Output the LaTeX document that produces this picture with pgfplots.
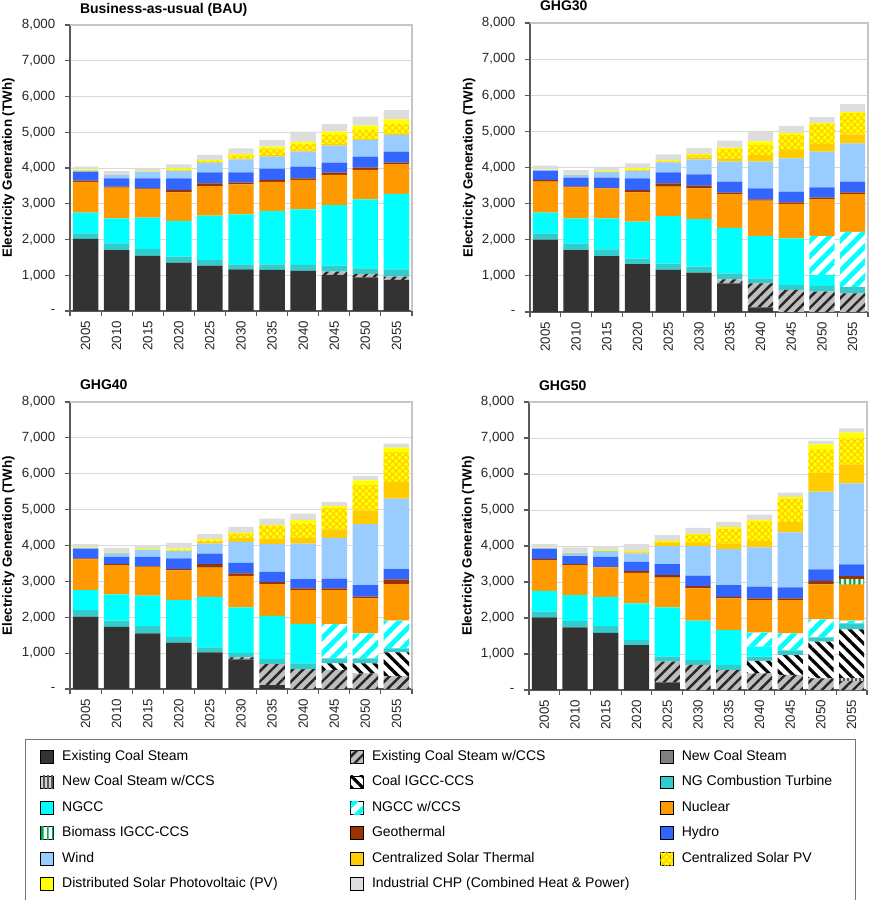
\documentclass[border=0pt]{standalone}
\usepackage{fontspec}
\setmainfont{Liberation Sans}
\usepackage{pgfplots}
\usepackage{pgfplotstable}
\pgfplotsset{compat=1.18}
\usetikzlibrary{patterns.meta}

\definecolor{cECS}{HTML}{333333}
\definecolor{cECCSbg}{HTML}{BEBEBE}
\definecolor{cNCS}{HTML}{808080}
\definecolor{cCT}{HTML}{33CCCC}
\definecolor{cNGCC}{HTML}{00FFFF}
\definecolor{cNuc}{HTML}{FF9900}
\definecolor{cBio}{HTML}{00A651}
\definecolor{cGeo}{HTML}{993300}
\definecolor{cHyd}{HTML}{3366FF}
\definecolor{cWind}{HTML}{99CCFF}
\definecolor{cCST}{HTML}{FFCC00}
\definecolor{cPV}{HTML}{FFFF00}
\definecolor{cCHP}{HTML}{DDDDDD}

\tikzset{
 sECS/.style={fill=cECS, draw=none},
 sECCS/.style={fill=cECCSbg, draw=none, postaction={pattern={Lines[angle=45,distance=5.5pt,line width=1.8pt]},pattern color=black!85}},
 sNCS/.style={fill=cNCS, draw=none},
 sNCCS/.style={fill=gray!35, draw=none, postaction={pattern={Lines[angle=90,distance=3pt,line width=1.2pt]},pattern color=gray!70!black}},
 sIGCC/.style={fill=white, draw=none, postaction={pattern={Lines[angle=-45,distance=6pt,line width=2.4pt]},pattern color=black}},
 sCT/.style={fill=cCT, draw=none},
 sNGCC/.style={fill=cNGCC, draw=none},
 sNGCCS/.style={fill=white, draw=none, postaction={pattern={Lines[angle=45,distance=8pt,line width=3.6pt]},pattern color=cNGCC}},
 sNuc/.style={fill=cNuc, draw=none},
 sBio/.style={fill=white, draw=none, postaction={pattern={Lines[angle=90,distance=4pt,line width=2pt]},pattern color=cBio}},
 sGeo/.style={fill=cGeo, draw=none},
 sHyd/.style={fill=cHyd, draw=none},
 sWind/.style={fill=cWind, draw=none},
 sCST/.style={fill=cCST, draw=none},
 sCSPV/.style={fill=cPV, draw=none, postaction={pattern={Hatch[angle=45,distance=3.5pt,line width=0.8pt]},pattern color=cCST}},
 sDPV/.style={fill=cPV, draw=none},
 sCHP/.style={fill=cCHP, draw=none},
}

% columns: x ecs eccs ncs nccs igcc ngct ngcc ngccs nuc bio geo hyd wind cst cspv dspv chp
\pgfplotstableread{
x ecs eccs ncs nccs igcc ngct ngcc ngccs nuc bio geo hyd wind cst cspv dspv chp
0 2020 0 0 0 0 150 580 0 860 0 40 250 30 0 10 20 80
1 1700 0 0 0 0 190 700 0 860 0 30 230 90 0 0 10 110
2 1540 0 0 0 0 190 880 0 800 0 20 280 190 0 0 20 70
3 1350 0 0 0 0 170 1000 0 800 0 65 325 210 10 20 40 110
4 1270 0 0 0 0 155 1240 0 830 0 75 310 270 15 30 25 145
5 1165 0 0 0 0 140 1400 0 840 0 45 290 360 30 85 30 165
6 1150 0 0 0 0 155 1490 0 820 0 50 315 340 40 190 50 185
7 1130 0 0 0 0 160 1555 0 820 0 45 325 420 40 190 50 280
8 1010 90 0 0 0 170 1695 0 840 0 65 280 475 40 260 95 210
9 940 95 0 0 0 160 1930 0 820 0 65 305 470 40 240 120 250
10 870 90 0 0 0 205 2110 0 830 0 45 305 470 40 265 130 260
}\tBAU

\pgfplotstableread{
x ecs eccs ncs nccs igcc ngct ngcc ngccs nuc bio geo hyd wind cst cspv dspv chp
0 2000 0 0 0 0 175 575 0 860 0 45 250 20 0 0 15 110
1 1710 0 0 0 0 185 695 0 860 0 25 245 75 0 0 10 125
2 1545 0 0 0 0 185 860 0 830 0 15 285 150 0 0 35 100
3 1325 0 0 0 0 155 1020 0 810 0 65 325 205 15 20 40 135
4 1175 0 0 0 0 165 1315 0 815 0 90 305 280 15 20 15 170
5 1090 0 0 0 0 165 1315 0 855 0 75 310 415 55 70 25 160
6 795 110 0 0 0 165 1260 0 935 0 40 305 555 90 260 35 195
7 130 665 0 0 0 135 1180 0 970 0 40 305 740 185 275 95 260
8 0 610 0 0 0 140 1290 0 950 0 45 295 925 230 415 50 205
9 0 565 0 0 0 155 305 1075 1025 0 40 285 990 215 545 30 165
10 0 515 0 0 0 170 0 1535 1045 0 45 300 1060 250 585 30 220
}\tGHGthirty

\pgfplotstableread{
x ecs eccs ncs nccs igcc ngct ngcc ngccs nuc bio geo hyd wind cst cspv dspv chp
0 2015 0 0 0 0 185 555 0 855 0 30 275 20 0 0 15 85
1 1735 0 0 0 0 170 730 0 815 0 30 205 110 0 0 10 130
2 1550 0 0 0 0 205 845 0 805 0 15 265 185 0 0 30 110
3 1290 0 0 0 0 165 1025 0 830 0 30 300 200 20 25 30 160
4 1020 0 0 0 0 140 1410 0 815 0 95 295 280 45 45 30 140
5 825 55 0 0 0 130 1265 0 880 0 65 295 585 120 95 40 165
6 110 580 0 0 0 140 1205 0 890 0 55 285 770 160 345 30 180
7 0 557 0 0 0 160 1095 0 945 0 45 263 990 170 390 90 185
8 0 530 0 0 185 140 0 955 945 0 50 275 1135 230 600 50 120
9 0 437 0 0 280 140 0 695 975 0 45 325 1700 385 700 135 121
10 0 360 0 0 660 115 0 770 1020 0 130 285 1970 465 830 125 110
}\tGHGforty

\pgfplotstableread{
x ecs eccs ncs nccs igcc ngct ngcc ngccs nuc bio geo hyd wind cst cspv dspv chp
0 2015 0 0 0 0 160 580 0 855 0 30 280 20 0 0 15 95
1 1740 0 0 0 0 175 720 0 835 0 25 225 90 0 0 10 140
2 1590 0 0 0 0 185 815 0 815 0 15 280 155 0 0 35 105
3 1250 0 0 0 0 140 1015 0 850 0 45 260 235 20 20 25 190
4 215 570 0 0 0 140 1370 0 830 0 65 305 500 95 25 30 155
5 0 695 0 0 0 140 1090 0 895 0 65 290 820 95 220 20 175
6 0 555 0 0 0 140 970 0 880 0 45 325 1000 155 415 45 140
7 0 463 0 0 345 118 278 390 905 0 45 325 1090 185 530 45 155
8 0 417 0 0 555 130 0 472 925 0 45 305 1527 296 647 46 121
9 0 324 0 0 1020 120 0 500 970 0 100 315 2161 527 630 157 100
10 0 250 0 80 1355 165 0 75 1010 135 95 325 2250 530 720 160 120
}\tGHGfifty

\newcommand\drawpanel[1]{%
 \addplot[sECS] table[x=x,y=ecs]{#1};
 \addplot[sECCS] table[x=x,y=eccs]{#1};
 \addplot[sNCS] table[x=x,y=ncs]{#1};
 \addplot[sNCCS] table[x=x,y=nccs]{#1};
 \addplot[sIGCC] table[x=x,y=igcc]{#1};
 \addplot[sCT] table[x=x,y=ngct]{#1};
 \addplot[sNGCC] table[x=x,y=ngcc]{#1};
 \addplot[sNGCCS] table[x=x,y=ngccs]{#1};
 \addplot[sNuc] table[x=x,y=nuc]{#1};
 \addplot[sBio] table[x=x,y=bio]{#1};
 \addplot[sGeo] table[x=x,y=geo]{#1};
 \addplot[sHyd] table[x=x,y=hyd]{#1};
 \addplot[sWind] table[x=x,y=wind]{#1};
 \addplot[sCST] table[x=x,y=cst]{#1};
 \addplot[sCSPV] table[x=x,y=cspv]{#1};
 \addplot[sDPV] table[x=x,y=dspv]{#1};
 \addplot[sCHP] table[x=x,y=chp]{#1};
}
\newcommand\LE[2]{\addlegendentry{\makebox[#1][l]{\hspace{6.25pt}#2}}}

\pgfplotsset{
 panel/.style={
  scale only axis,
  ybar stacked, bar width=0.82,
  every axis plot/.append style={legend image code/.code={\draw[##1] (0pt,-4.75pt) rectangle (9.5pt,4.75pt);}},
  xmin=-0.5, xmax=10.5, ymin=0, ymax=8000,
  enlarge x limits=false, enlarge y limits=false,
  xtick={0,...,10},
  xticklabels={2005,2010,2015,2020,2025,2030,2035,2040,2045,2050,2055},
  minor xtick={-0.5,0.5,...,10.5},
  ytick={0,1000,...,8000},
  yticklabels={{-\hspace{5pt}},{1,000},{2,000},{3,000},{4,000},{5,000},{6,000},{7,000},{8,000}},
  axis x line*=bottom, axis y line*=left,
  axis line style={black!65, line width=0.8pt},
  tick align=outside,
  major x tick style={draw=none},
  minor x tick style={black!65, line width=0.8pt},
  major y tick style={black!65, line width=0.8pt},
  major tick length=4pt, minor tick length=4pt,
  ymajorgrids, major grid style={gray!30, line width=0.6pt},
  tick label style={font=\fontsize{10}{12}\selectfont, text=black!85},
  xticklabel style={rotate=90, anchor=east},
  yticklabel style={xshift=-3.5pt},
  every axis y label/.style={at={(axis description cs:-0.18,0.5)}, rotate=90, anchor=center, font=\bfseries\fontsize{10}{12}\selectfont},
  ylabel={Electricity Generation (TWh)},
  title style={at={(axis description cs:0,1)}, anchor=base west, xshift=4pt, yshift=3pt, font=\bfseries\fontsize{10.5}{12}\selectfont},
  after end axis/.code={\draw[gray!45, line width=0.8pt] (rel axis cs:0,1) -- (rel axis cs:1,1) -- (rel axis cs:1,0);},
 }
}

\begin{document}
\begin{tikzpicture}
\path[use as bounding box] (0pt,0pt) rectangle (653.25pt,675pt);

\begin{axis}[panel, at={(52.5pt,441.75pt)}, anchor=south west, width=256.5pt, height=214.5pt,
 title={Business-as-usual (BAU)}]
\drawpanel{\tBAU}
\end{axis}

\begin{axis}[panel, at={(397.5pt,441pt)}, anchor=south west, width=253.5pt, height=216.75pt,
 title={GHG30}]
\drawpanel{\tGHGthirty}
\end{axis}

\begin{axis}[panel, at={(52.5pt,158.25pt)}, anchor=south west, width=256.5pt, height=215.25pt,
 title={GHG40}]
\drawpanel{\tGHGforty}
\end{axis}

\begin{axis}[panel, at={(396.75pt,157.5pt)}, anchor=south west, width=253.5pt, height=216pt,
 title={GHG50},
 legend columns=3, legend cell align=left,
 legend style={at={(axis description cs:-1.4911,-0.1713)}, anchor=north west,
   draw=black!55, line width=0.6pt, fill=white,
   inner xsep=11.25pt, inner ysep=7.75pt, column sep=0pt, row sep=9pt,
   /tikz/every odd column/.style={column sep=0pt},
   /tikz/every even column/.style={column sep=0pt},
   font=\fontsize{10.5}{12}\selectfont,
   nodes={inner sep=0pt, text height=7.5pt, text depth=2.5pt}}]
\drawpanel{\tGHGfifty}
\LE{222.25pt}{Existing Coal Steam}
\LE{222.25pt}{Existing Coal Steam w/CCS}
\LE{125.25pt}{New Coal Steam}
\LE{222.25pt}{New Coal Steam w/CCS}
\LE{222.25pt}{Coal IGCC-CCS}
\LE{125.25pt}{NG Combustion Turbine}
\LE{222.25pt}{NGCC}
\LE{222.25pt}{NGCC w/CCS}
\LE{125.25pt}{Nuclear}
\LE{222.25pt}{Biomass IGCC-CCS}
\LE{222.25pt}{Geothermal}
\LE{125.25pt}{Hydro}
\LE{222.25pt}{Wind}
\LE{222.25pt}{Centralized Solar Thermal}
\LE{125.25pt}{Centralized Solar PV}
\LE{222.25pt}{Distributed Solar Photovoltaic (PV)}
\LE{222.25pt}{Industrial CHP (Combined Heat \& Power)}
\end{axis}
\end{tikzpicture}
\end{document}
